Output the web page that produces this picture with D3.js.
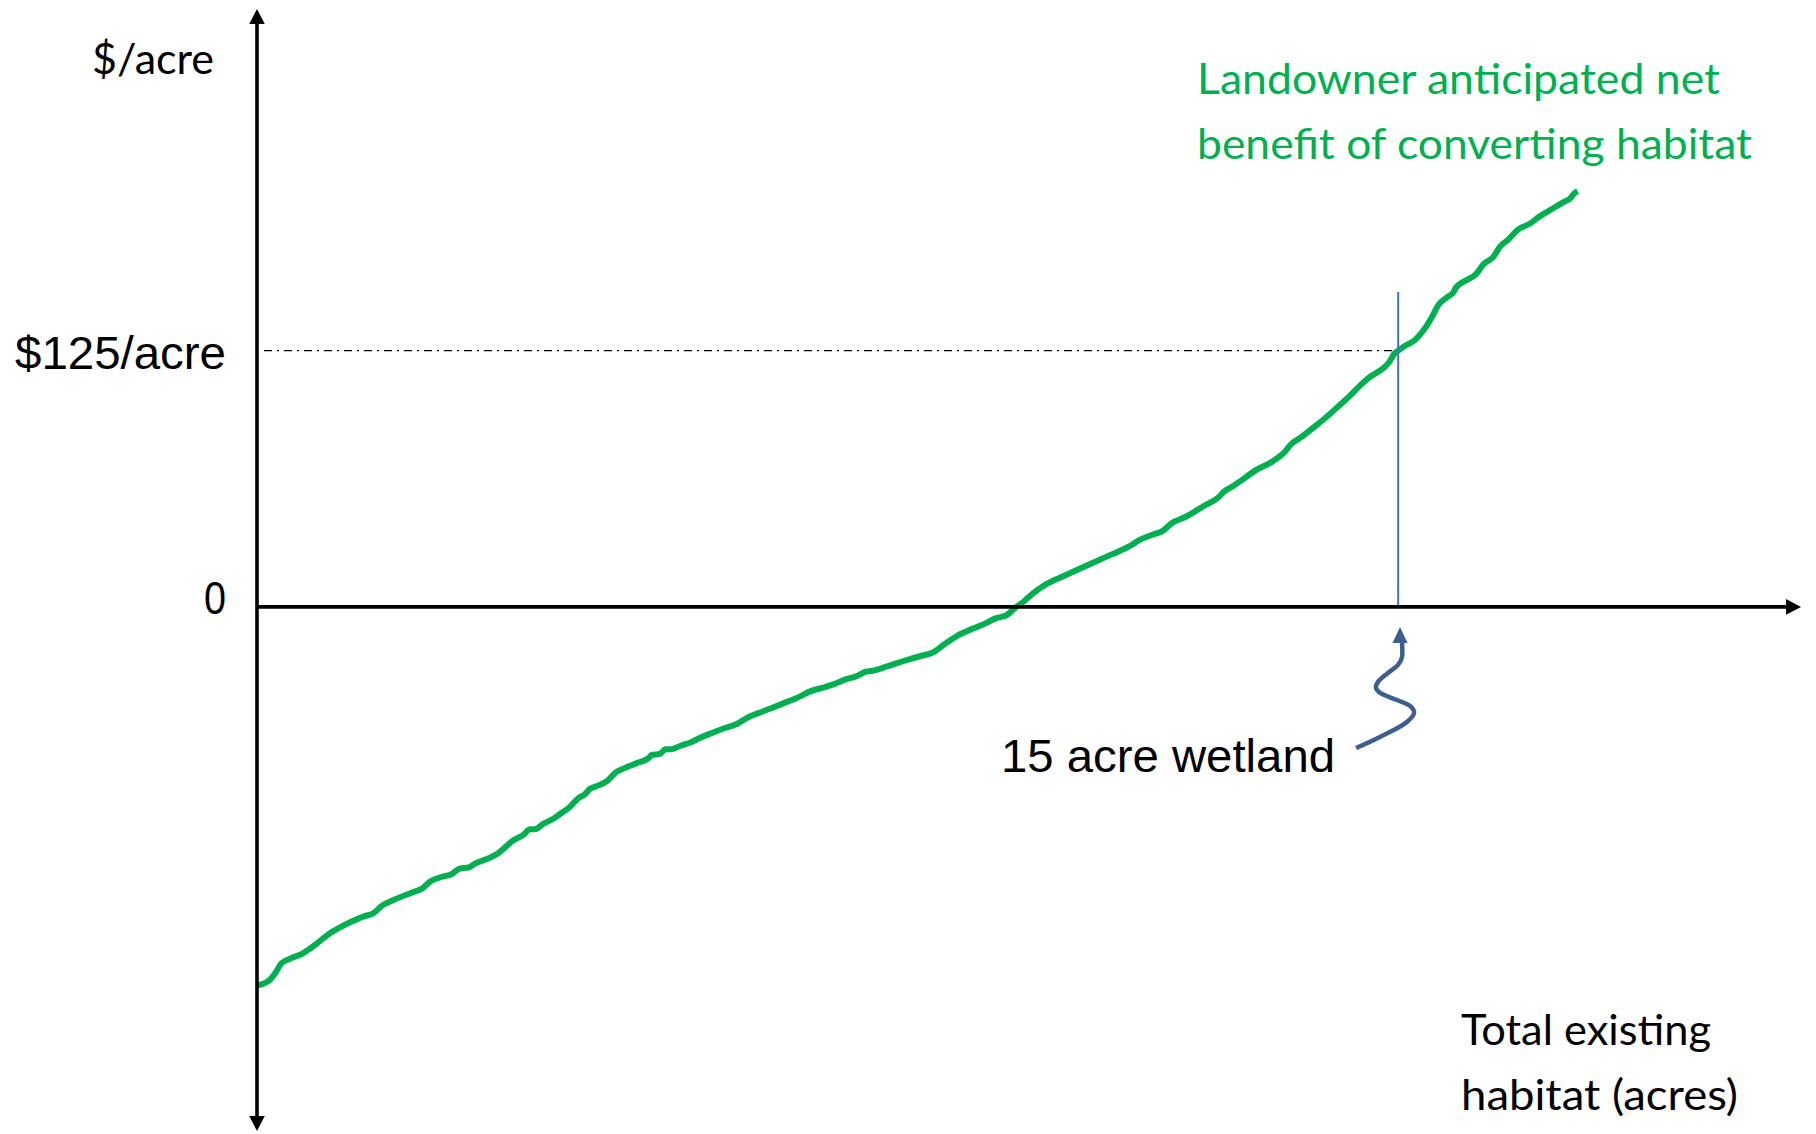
<!DOCTYPE html>
<html>
<head>
<meta charset="utf-8">
<script src="https://cdn.jsdelivr.net/npm/d3@7"></script>
<style>
  html, body { margin: 0; padding: 0; background: #ffffff; }
  svg { display: block; }
</style>
</head>
<body>
<svg id="chart" width="1816" height="1134"></svg>
<script>
// Total existing habitat (arbitrary acre units along the x axis)
const habitatAcres = [
  0, 0.75, 1.2, 1.57, 2.1, 3.0, 3.75, 4.72, 5.62, 6.6, 6.97, 7.5, 8.1, 8.85, 9.97,
  10.72, 11.24, 12.0, 12.6, 13.12, 13.72, 14.09, 14.84, 15.59, 16.12, 16.57, 17.24,
  17.69, 17.99, 18.59, 19.19, 19.72, 20.24, 20.84, 21.21, 21.59, 21.96, 22.71, 23.24,
  23.84, 24.59, 25.34, 25.56, 26.09, 26.46, 26.84, 27.44, 28.11, 28.71, 29.46, 30.21,
  31.11, 31.71, 32.83, 33.96, 35.08, 35.83, 36.58, 37.33, 38.08, 38.83, 39.43, 39.96,
  40.7, 41.83, 43.1, 43.7, 44.45, 45.35, 46.33, 47.08, 47.83, 48.58, 49.1, 49.7, 50.3,
  51.05, 52.32, 53.82, 55.32, 56.45, 57.2, 57.95, 58.7, 59.22, 60.19, 61.32, 62.22,
  62.67, 63.19, 63.94, 64.69, 65.82, 66.57, 66.94, 67.69, 68.44, 69.19, 69.94, 70.69,
  71.44, 72.04, 72.94, 73.31, 73.69, 73.91, 74.44, 74.96, 75.56, 76.09, 76.54, 77.06,
  77.51, 77.66, 78.19, 78.94, 79.46, 80.06, 80.51, 81.03, 81.71, 82.46, 83.06, 83.81,
  84.56, 85.08, 85.31, 85.53
];

// Landowner anticipated net benefit of converting habitat ($/acre)
const netBenefit = [
  -184.6, -182.4, -178.4, -173.9, -171.7, -168.8, -164.9, -159.2, -155.3, -151.9, -150.8,
  -149.6, -145.7, -142.9, -139.5, -137.2, -133.8, -131.6, -130.4, -127.6, -127.0, -125.3,
  -123.1, -120.3, -116.9, -114.0, -111.2, -108.4, -108.4, -105.6, -103.3, -100.5, -97.7,
  -93.1, -91.5, -88.6, -87.5, -84.7, -80.7, -78.5, -76.2, -73.9, -72.2, -71.7, -69.4,
  -69.4, -67.7, -66.0, -63.8, -61.5, -59.3, -57.0, -54.2, -50.8, -47.4, -44.0, -41.2,
  -39.5, -37.8, -35.5, -33.8, -31.6, -31.0, -29.3, -26.5, -23.7, -22.5, -18.6, -14.1,
  -10.7, -8.4, -5.6, -3.9, -0.5, 2.9, 6.8, 10.8, 15.3, 20.4, 25.5, 29.4, 32.8, 35.1,
  37.3, 40.7, 44.1, 49.2, 53.1, 56.5, 58.8, 62.7, 66.7, 71.2, 75.7, 79.1, 83.1, 87.6,
  92.1, 97.2, 102.3, 107.9, 111.9, 116.4, 119.2, 123.8, 125.0, 127.7, 129.9, 135.0,
  141.3, 147.5, 150.9, 153.7, 155.9, 158.8, 162.2, 167.3, 170.6, 175.7, 179.1, 184.2,
  187.0, 190.4, 193.8, 197.2, 199.4, 201.7, 202.8
];

// Value axis labels
const yTickValues = [0, 125];
const yTickLabels = ["0", "$125/acre"];

// Reference price and the wetland marker
const priceLevel = 125;
const wetlandAcres = 73.91;
const wetlandMarkerTop = 153.6;

// Callout arrow path (acres, $/acre) from the label up to the x axis
const calloutAcres = [71.18, 72.73, 74.48, 74.94, 74.68, 73.83, 72.73, 72.47, 72.60, 73.25, 73.90, 74.16, 74.16];
const calloutValues = [-68.8, -63.4, -56.1, -51.7, -48.3, -45.4, -41.9, -39.5, -36.6, -32.2, -28.3, -24.4, -17.0];
const calloutTip = [74.03, -9.8];

// Axis extents
const xExtent = [0, 100];
const yExtent = [-255.6, 291.6];

const svg = d3.select("#chart");
svg.append("rect").attr("width", 1816).attr("height", 1134).attr("fill", "#ffffff");

const x = d3.scaleLinear().domain(xExtent).range([257, 1801]);
const y = d3.scaleLinear().domain(yExtent).range([1131, 9]);

const GREEN = "#00b050";
const BLUE = "#4472c4";
const DARKBLUE = "#3d5f8f";
const calibriLike = "Lato, 'Open Sans', sans-serif";
const arialLike = "'Liberation Sans', Arial, sans-serif";

// Dash-dot reference line at the price level
svg.append("line")
  .attr("x1", x(0.45)).attr("x2", x(wetlandAcres))
  .attr("y1", y(priceLevel)).attr("y2", y(priceLevel))
  .attr("stroke", "#000").attr("stroke-width", 1.3)
  .attr("stroke-dasharray", "8,5,2,5");

// Net benefit curve
const series = habitatAcres.map((a, i) => [a, netBenefit[i]]);
const line = d3.line().x(d => x(d[0])).y(d => y(d[1])).curve(d3.curveMonotoneX);
svg.append("path")
  .datum(series)
  .attr("d", line)
  .attr("fill", "none")
  .attr("stroke", GREEN)
  .attr("stroke-width", 6)
  .attr("stroke-linejoin", "round");

// Axes
const axisW = 3.6;
svg.append("line")
  .attr("x1", x(0)).attr("x2", x(xExtent[1]) - 12)
  .attr("y1", y(0)).attr("y2", y(0))
  .attr("stroke", "#000").attr("stroke-width", axisW);
svg.append("line")
  .attr("x1", x(0)).attr("x2", x(0))
  .attr("y1", y(yExtent[1]) + 12).attr("y2", y(yExtent[0]) - 12)
  .attr("stroke", "#000").attr("stroke-width", axisW);

const ah = 15, aw = 7.8;
// x-axis arrowhead
const xt = [x(xExtent[1]), y(0)];
svg.append("path")
  .attr("d", `M${xt[0]},${xt[1]} L${xt[0] - ah},${xt[1] - aw} L${xt[0] - ah},${xt[1] + aw} Z`)
  .attr("fill", "#000");
// y-axis arrowheads (top and bottom)
const yt = [x(0), y(yExtent[1])];
svg.append("path")
  .attr("d", `M${yt[0]},${yt[1]} L${yt[0] - aw},${yt[1] + ah} L${yt[0] + aw},${yt[1] + ah} Z`)
  .attr("fill", "#000");
const yb = [x(0), y(yExtent[0])];
svg.append("path")
  .attr("d", `M${yb[0]},${yb[1]} L${yb[0] - aw},${yb[1] - ah} L${yb[0] + aw},${yb[1] - ah} Z`)
  .attr("fill", "#000");

// Wetland marker line
svg.append("line")
  .attr("x1", x(wetlandAcres)).attr("x2", x(wetlandAcres))
  .attr("y1", y(wetlandMarkerTop)).attr("y2", y(0) - 2)
  .attr("stroke", BLUE).attr("stroke-width", 2);

// Value labels on the y axis
const tickOffsets = [7, 18.5];
const tickLengths = [22, 211];
yTickValues.forEach((v, i) => {
  svg.append("text")
    .attr("x", x(0) - 31)
    .attr("y", y(v) + tickOffsets[i])
    .attr("text-anchor", "end")
    .attr("font-family", arialLike)
    .attr("font-size", 46)
    .attr("fill", "#000")
    .attr("textLength", tickLengths[i])
    .attr("lengthAdjust", "spacingAndGlyphs")
    .text(yTickLabels[i]);
});

// Axis titles
svg.append("text")
  .attr("x", 92).attr("y", 74)
  .attr("font-family", calibriLike).attr("font-size", 42).attr("fill", "#000")
  .attr("textLength", 122).attr("lengthAdjust", "spacingAndGlyphs")
  .text("$/acre");

const xTitle = svg.append("g").attr("font-family", calibriLike).attr("font-size", 42).attr("fill", "#000");
xTitle.append("text").attr("x", 1461).attr("y", 1045)
  .attr("textLength", 250).attr("lengthAdjust", "spacingAndGlyphs")
  .text("Total existing");
xTitle.append("text").attr("x", 1461).attr("y", 1110)
  .attr("textLength", 277).attr("lengthAdjust", "spacingAndGlyphs")
  .text("habitat (acres)");

// Series label
const seriesLabel = svg.append("g").attr("font-family", calibriLike).attr("font-size", 42).attr("fill", GREEN);
seriesLabel.append("text").attr("x", 1197).attr("y", 94)
  .attr("textLength", 523).attr("lengthAdjust", "spacingAndGlyphs")
  .text("Landowner anticipated net");
seriesLabel.append("text").attr("x", 1197).attr("y", 159)
  .attr("textLength", 555).attr("lengthAdjust", "spacingAndGlyphs")
  .text("benefit of converting habitat");

// Wetland callout
svg.append("text")
  .attr("x", 1001).attr("y", 772)
  .attr("font-family", arialLike).attr("font-size", 46).attr("fill", "#000")
  .attr("textLength", 334).attr("lengthAdjust", "spacingAndGlyphs")
  .text("15 acre wetland");

const callout = calloutAcres.map((a, i) => [a, calloutValues[i]]);
svg.append("path")
  .datum(callout)
  .attr("d", d3.line().x(d => x(d[0])).y(d => y(d[1])).curve(d3.curveCatmullRom.alpha(0.5)))
  .attr("fill", "none")
  .attr("stroke", DARKBLUE)
  .attr("stroke-width", 4.5);
const tip = [x(calloutTip[0]), y(calloutTip[1])];
svg.append("path")
  .attr("d", `M${tip[0]},${tip[1]} L${tip[0] - 7.5},${tip[1] + 16} L${tip[0] + 7.5},${tip[1] + 16} Z`)
  .attr("fill", DARKBLUE);
</script>
</body>
</html>
